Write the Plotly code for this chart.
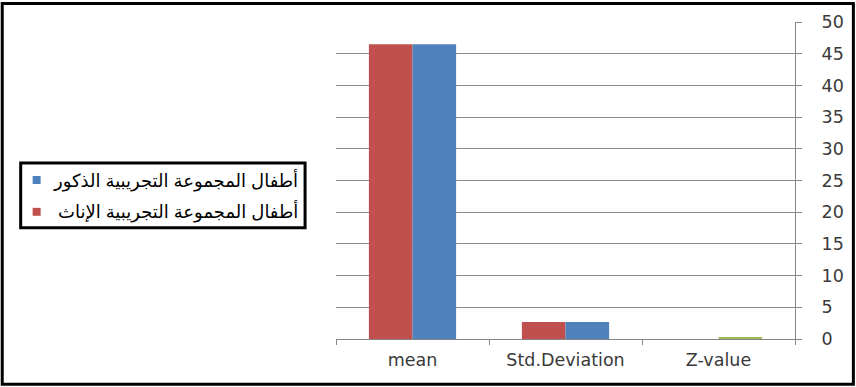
import plotly.graph_objects as go

categories = ["mean", "Std.Deviation", "Z-value"]
females = [46.5, 2.7, 0.0]
males = [46.5, 2.7, 0.3]
female_name = "أطفال المجموعة التجريبية الإناث"
male_name = "أطفال المجموعة التجريبية الذكور"
y_ticks = list(range(0, 51, 5))

W, H = 856, 387
L, R, T, B = 336, 796, 20, 339

def px(x):
    return (x - L) / (R - L)

def py(y):
    return (B - y) / (B - T)

fig = go.Figure()
fig.add_trace(go.Bar(x=categories, y=females, name=female_name,
                     marker=dict(color="#C0504D", line=dict(width=0))))
fig.add_trace(go.Bar(x=categories, y=males, name=male_name,
                     marker=dict(color=["#4F81BD", "#4F81BD", "#9BBB59"], line=dict(width=0))))

x_font = dict(family="DejaVu Sans, sans-serif", size=17.5, color="#3A3A3A")
y_font = dict(family="DejaVu Sans, sans-serif", size=17.5, color="#3A3A3A")

fig.update_layout(
    width=W, height=H,
    margin=dict(l=L, r=W - R, t=T, b=H - B),
    paper_bgcolor="white", plot_bgcolor="white",
    barmode="group", bargap=0.43, bargroupgap=0,
    showlegend=False,
    xaxis=dict(showline=True, linecolor="#868686", linewidth=1,
               ticks="outside", tickson="boundaries", ticklen=5, tickcolor="#868686",
               tickfont=x_font, showgrid=False, ticklabelstandoff=5),
    yaxis=dict(side="right", range=[0, 50], tickvals=y_ticks,
               showline=True, linecolor="#868686", linewidth=1,
               ticks="outside", ticklen=6, tickcolor="#868686",
               showgrid=True, gridcolor="#8C8C8C", gridwidth=1,
               tickfont=y_font, zeroline=False, ticklabelstandoff=16),
)

shapes = []
# outer frame
shapes.append(dict(type="rect", xref="paper", yref="paper",
                   x0=px(1.5), x1=px(W - 1.5), y0=py(1.5), y1=py(H - 2.5),
                   line=dict(color="black", width=3), fillcolor="rgba(0,0,0,0)", layer="above"))
# legend box
shapes.append(dict(type="rect", xref="paper", yref="paper",
                   x0=px(20), x1=px(305), y0=py(162), y1=py(227),
                   line=dict(color="black", width=3), fillcolor="white", layer="above"))
rows = [(male_name, "#4F81BD", 179), (female_name, "#C0504D", 211)]
annotations = []
for name, color, yc in rows:
    shapes.append(dict(type="rect", xref="paper", yref="paper",
                       x0=px(32), x1=px(40), y0=py(yc - 4), y1=py(yc + 4),
                       line=dict(width=0), fillcolor=color, layer="above"))
    annotations.append(dict(xref="paper", yref="paper", x=px(300), y=py(yc),
                            xanchor="right", yanchor="middle", showarrow=False,
                            text=name,
                            font=dict(family="Arial, DejaVu Sans, sans-serif", size=18, color="black")))

fig.update_layout(shapes=shapes, annotations=annotations)
fig.write_html("out.html")
